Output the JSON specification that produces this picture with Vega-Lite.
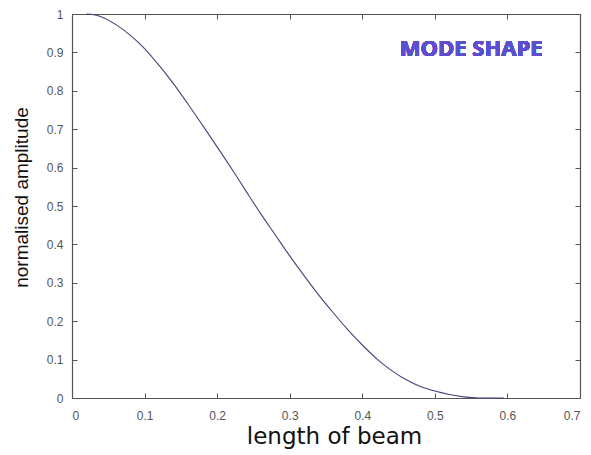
{
  "$schema": "https://vega.github.io/schema/vega-lite/v6.json",
  "width": 508,
  "height": 384,
  "autosize": "none",
  "padding": {"left": 72, "top": 14, "right": 11, "bottom": 57},
  "background": "white",
  "view": {"stroke": null},
  "data": {"values": [
    {"x": 0.02, "y": 1.0},
    {"x": 0.03, "y": 0.998},
    {"x": 0.04, "y": 0.993},
    {"x": 0.06, "y": 0.973},
    {"x": 0.08, "y": 0.945},
    {"x": 0.10, "y": 0.91},
    {"x": 0.12, "y": 0.866},
    {"x": 0.14, "y": 0.818},
    {"x": 0.16, "y": 0.765},
    {"x": 0.18, "y": 0.71},
    {"x": 0.20, "y": 0.654},
    {"x": 0.22, "y": 0.597},
    {"x": 0.24, "y": 0.538},
    {"x": 0.26, "y": 0.48},
    {"x": 0.28, "y": 0.425},
    {"x": 0.30, "y": 0.37},
    {"x": 0.32, "y": 0.318},
    {"x": 0.34, "y": 0.268},
    {"x": 0.36, "y": 0.222},
    {"x": 0.38, "y": 0.178},
    {"x": 0.40, "y": 0.138},
    {"x": 0.42, "y": 0.102},
    {"x": 0.44, "y": 0.072},
    {"x": 0.46, "y": 0.048},
    {"x": 0.48, "y": 0.03},
    {"x": 0.50, "y": 0.018},
    {"x": 0.52, "y": 0.009},
    {"x": 0.54, "y": 0.003},
    {"x": 0.56, "y": 0.0},
    {"x": 0.595, "y": 0.0}
  ]},
  "layer": [
    {
      "mark": {"type": "line", "color": "#44447a", "strokeWidth": 1.1, "interpolate": "monotone"},
      "encoding": {
        "x": {"field": "x", "type": "quantitative",
          "scale": {"domain": [0, 0.7], "nice": false, "zero": false},
          "axis": {"orient": "bottom", "values": [0, 0.1, 0.2, 0.3, 0.4, 0.5, 0.6, 0.7], "format": "~g", "labelPadding": 17,
            "title": "length of beam", "titleFont": "DejaVu Sans", "titleFontSize": 23, "titleFontWeight": "normal",
            "titleColor": "#111", "titleX": 262, "titleY": 45, "titleBaseline": "alphabetic", "titleAlign": "center"}},
        "y": {"field": "y", "type": "quantitative",
          "scale": {"domain": [0, 1], "nice": false, "zero": false},
          "axis": {"orient": "left", "values": [0, 0.1, 0.2, 0.3, 0.4, 0.5, 0.6, 0.7, 0.8, 0.9, 1], "format": "~g", "labelPadding": 14,
            "title": "normalised amplitude", "titleFont": "Liberation Sans", "titleFontSize": 19, "titleFontWeight": "normal",
            "titleColor": "#111", "titleX": -51, "titleY": 183, "titleBaseline": "middle", "titleAngle": -90, "titleAlign": "center"}}
      }
    },
    {
      "mark": {"type": "line", "strokeOpacity": 0},
      "encoding": {
        "x": {"field": "x", "type": "quantitative",
          "axis": {"orient": "top", "values": [0, 0.1, 0.2, 0.3, 0.4, 0.5, 0.6, 0.7], "labels": false, "title": null}},
        "y": {"field": "y", "type": "quantitative",
          "axis": {"orient": "right", "values": [0, 0.1, 0.2, 0.3, 0.4, 0.5, 0.6, 0.7, 0.8, 0.9, 1], "labels": false, "title": null}}
      }
    },
    {
      "mark": {"type": "text", "text": "MODE SHAPE", "font": "Open Sans", "fontWeight": "bold", "fontSize": 22, "color": "#5b4fd0", "align": "center", "baseline": "middle"},
      "encoding": {
        "x": {"datum": 0.55, "type": "quantitative", "axis": null},
        "y": {"datum": 0.909, "type": "quantitative", "axis": null}
      }
    }
  ],
  "resolve": {"axis": {"x": "independent", "y": "independent"}},
  "config": {
    "axis": {
      "grid": false,
      "domainColor": "#555",
      "domainWidth": 1.2,
      "tickColor": "#555",
      "tickSize": -5,
      "labelFont": "Liberation Sans",
      "labelFontSize": 12,
      "labelColor": "#555"
    }
  }
}
